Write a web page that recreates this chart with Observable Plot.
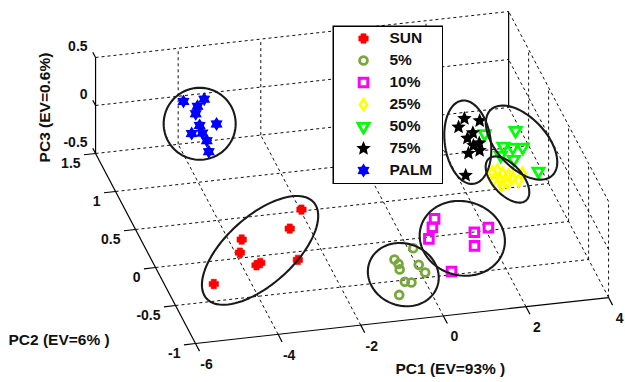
<!DOCTYPE html>
<html>
<head>
<meta charset="utf-8">
<script src="https://cdn.jsdelivr.net/npm/d3@7"></script>
<script src="https://cdn.jsdelivr.net/npm/@observablehq/plot@0.6"></script>
<style>
html,body{margin:0;padding:0;background:#fff;}
#wrap{position:relative;width:625px;height:382px;overflow:hidden;}
#legend{position:absolute;left:332px;top:25px;width:111px;height:159px;}
</style>
</head>
<body>
<div id="wrap"><div id="chart"></div><div id="legend"></div></div>
<script>
// ---------------- data (PC scores) ----------------
const groups = ["SUN", "5%", "10%", "25%", "50%", "75%", "PALM"];

const sunPC1 = [-2.37, -2.81, -4.04, -4.18, -4.01, -3.92, -3.00, -5.19];
const sunPC2 = [0.10, -0.06, -0.13, -0.23, -0.47, -0.47, -0.46, -0.62];
const sunPC3 = [-0.15, -0.20, -0.20, -0.25, -0.20, -0.18, -0.20, -0.22];

const b5PC1 = [-0.07, -0.67, -0.63, -0.67, -0.18, -0.16, -0.70, -0.56, -1.01];
const b5PC2 = [-0.32, -0.47, -0.53, -0.60, -0.57, -0.71, -0.76, -0.78, -0.94];
const b5PC3 = [-0.33, -0.30, -0.30, -0.30, -0.30, -0.27, -0.30, -0.30, -0.28];

const b10PC1 = [0.62, 0.47, 0.25, 1.37, 1.21, 1.70, 0.42];
const b10PC2 = [-0.14, -0.24, -0.38, -0.36, -0.53, -0.37, -0.77];
const b10PC3 = [-0.20, -0.20, -0.20, -0.20, -0.20, -0.16, -0.24];

const b25PC1 = [2.27, 2.41, 2.49, 2.20, 2.36, 2.60, 2.67, 2.77, 2.50, 2.36, 2.91];
const b25PC2 = [0.12, 0.14, 0.09, 0.02, 0.01, 0.06, 0.03, -0.02, -0.03, -0.02, 0.03];
const b25PC3 = [0.00, 0.00, 0.00, 0.00, 0.00, 0.00, 0.00, 0.00, 0.00, -0.03, 0.03];

const b50PC1 = [3.14, 2.72, 2.92, 3.15, 2.55, 2.80, 3.28, 2.44];
const b50PC2 = [0.44, 0.31, 0.28, 0.27, 0.20, 0.13, 0.01, 0.49];
const b50PC3 = [0.14, 0.10, 0.10, 0.10, 0.10, 0.10, 0.05, 0.10];

const b75PC1 = [2.00, 2.37, 1.81, 2.07, 1.88, 2.07, 1.93, 2.01, 1.72, 1.45];
const b75PC2 = [0.54, 0.54, 0.49, 0.40, 0.34, 0.24, 0.24, 0.17, 0.15, -0.06];
const b75PC3 = [0.24, 0.20, 0.20, 0.20, 0.20, 0.22, 0.20, 0.20, 0.20, 0.15];

const palmPC1 = [-4.23, -3.67, -3.91, -4.04, -3.71, -4.09, -4.37, -4.12, -4.11, -4.14];
const palmPC2 = [1.13, 1.19, 1.11, 1.02, 0.84, 0.87, 0.78, 0.77, 0.67, 0.59];
const palmPC3 = [0.25, 0.20, 0.20, 0.20, 0.22, 0.20, 0.20, 0.20, 0.20, 0.15];

// cluster ellipse centres (PC space)
const ellipseGroup = ["SUN", "5%", "10%", "25%", "50%", "75%", "PALM"];
const ellipsePC1 = [-3.75, -0.65, 1.02, 2.53, 3.18, 1.84, -4.07];
const ellipsePC2 = [-0.29, -0.67, -0.42, 0.01, 0.33, 0.29, 0.89];
const ellipsePC3 = [-0.20, -0.30, -0.20, 0.00, 0.10, 0.20, 0.20];

// axes
const pc1Ticks = [-6, -4, -2, 0, 2, 4];
const pc2Ticks = [-1, -0.5, 0, 0.5, 1, 1.5];
const pc3Ticks = [-0.5, 0, 0.5];
const pc1Label = "PC1 (EV=93% )";
const pc2Label = "PC2 (EV=6% )";
const pc3Label = "PC3 (EV=0.6%)";

// ---------------- build table ----------------
const series = [
  {group: "SUN", pc1: sunPC1, pc2: sunPC2, pc3: sunPC3},
  {group: "5%", pc1: b5PC1, pc2: b5PC2, pc3: b5PC3},
  {group: "10%", pc1: b10PC1, pc2: b10PC2, pc3: b10PC3},
  {group: "25%", pc1: b25PC1, pc2: b25PC2, pc3: b25PC3},
  {group: "50%", pc1: b50PC1, pc2: b50PC2, pc3: b50PC3},
  {group: "75%", pc1: b75PC1, pc2: b75PC2, pc3: b75PC3},
  {group: "PALM", pc1: palmPC1, pc2: palmPC2, pc3: palmPC3}
];

// ---------------- 3-D view (orthographic, MATLAB-like) ----------------
const box = {x: [pc1Ticks[0], pc1Ticks[pc1Ticks.length - 1]],
             y: [pc2Ticks[0], pc2Ticks[pc2Ticks.length - 1]],
             z: [pc3Ticks[0], pc3Ticks[pc3Ticks.length - 1]]};
const AZ = 13.6 * Math.PI / 180, SIN_EL = 0.46, L = 425, H = 96;
function proj(X, Y, Z) {
  const xn = (X - box.x[0]) / (box.x[1] - box.x[0]);
  const yn = (Y - box.y[0]) / (box.y[1] - box.y[0]);
  const zn = (Z - box.z[0]) / (box.z[1] - box.z[0]);
  return {
    u: L * (Math.cos(AZ) * xn - Math.sin(AZ) * yn),
    v: L * SIN_EL * (Math.sin(AZ) * xn + Math.cos(AZ) * yn) + H * zn
  };
}

const points = series.flatMap(s => s.pc1.map((v, i) => {
  const p = proj(v, s.pc2[i], s.pc3[i]);
  return {group: s.group, pc1: v, pc2: s.pc2[i], pc3: s.pc3[i], u: p.u, v: p.v};
}));

// ---------------- box, grid, ticks ----------------
const [x0, x1] = box.x, [y0, y1] = box.y, [z0, z1] = box.z;
const segs = [];
const seg = (a, b, kind) => {
  const p = proj(...a), q = proj(...b);
  segs.push({x1: p.u, y1: p.v, x2: q.u, y2: q.v, kind});
};
for (const t of pc1Ticks) if (t > x0 && t < x1) { seg([t, y0, z0], [t, y1, z0], "grid"); seg([t, y1, z0], [t, y1, z1], "grid"); }
for (const t of pc2Ticks) if (t > y0 && t < y1) { seg([x0, t, z0], [x1, t, z0], "grid"); seg([x1, t, z0], [x1, t, z1], "grid"); }
for (const t of pc3Ticks) if (t > z0 && t < z1) { seg([x0, y1, t], [x1, y1, t], "grid"); seg([x1, y0, t], [x1, y1, t], "grid"); }
seg([x0, y1, z0], [x1, y1, z0], "grid");
seg([x1, y0, z0], [x1, y1, z0], "grid");
seg([x0, y1, z1], [x1, y1, z1], "grid");
seg([x1, y0, z1], [x1, y1, z1], "grid");
seg([x1, y0, z0], [x1, y0, z1], "grid");
seg([x0, y0, z0], [x1, y0, z0], "axis");
seg([x0, y0, z0], [x0, y1, z0], "axis");
seg([x0, y1, z0], [x0, y1, z1], "axis");
seg([x1, y1, z0], [x1, y1, z1], "axis");
for (const t of pc1Ticks) seg([t, y0, z0], [t, y0 - 0.1, z0], "axis");
for (const t of pc2Ticks) seg([x0, t, z0], [x0 - 0.28, t, z0], "axis");
for (const t of pc3Ticks) seg([x0, y1, t], [x0, y1 + 0.07, t], "axis");

const fmt = t => String(t);
const pc1Lab = pc1Ticks.map(t => ({t, ...proj(t, y0, z0)}));
const pc2Lab = pc2Ticks.map(t => ({t, ...proj(x0, t, z0)}));
const pc3Lab = pc3Ticks.map(t => ({t, ...proj(x0, y1, t)}));

// ---------------- marker symbols ----------------
const rad = size => Math.sqrt(size / Math.PI);
const plusSym = {draw(c, s) { const R = rad(s), w = R * 0.55;
  c.moveTo(-w, -R); c.lineTo(w, -R); c.lineTo(w, -w); c.lineTo(R, -w); c.lineTo(R, w); c.lineTo(w, w);
  c.lineTo(w, R); c.lineTo(-w, R); c.lineTo(-w, w); c.lineTo(-R, w); c.lineTo(-R, -w); c.lineTo(-w, -w); c.closePath(); }};
const squareSym = {draw(c, s) { const R = rad(s); c.rect(-R, -R, 2 * R, 2 * R); }};
const diamondSym = {draw(c, s) { const R = rad(s), w = R * 0.62;
  c.moveTo(0, -R); c.lineTo(w, 0); c.lineTo(0, R); c.lineTo(-w, 0); c.closePath(); }};
const triDownSym = {draw(c, s) { const R = rad(s);
  c.moveTo(-0.866 * R, -0.5 * R); c.lineTo(0.866 * R, -0.5 * R); c.lineTo(0, R); c.closePath(); }};
const starSym = (n, k) => ({draw(c, s) { const R = rad(s), r = R * k;
  for (let i = 0; i < 2 * n; i++) { const a = -Math.PI / 2 + i * Math.PI / n, rr = i % 2 ? r : R;
    const x = rr * Math.cos(a), y = rr * Math.sin(a); i ? c.lineTo(x, y) : c.moveTo(x, y); }
  c.closePath(); }});

const markStyle = {
  "SUN":  {symbol: plusSym, r: 4.7, fill: "#ff0000", stroke: "#ff0000", strokeWidth: 0.6},
  "5%":   {symbol: "circle", r: 3.9, fill: "none", stroke: "#78a83c", strokeWidth: 2.8},
  "10%":  {symbol: squareSym, r: 4.3, fill: "none", stroke: "#ff00ff", strokeWidth: 3},
  "25%":  {symbol: diamondSym, r: 5.6, fill: "none", stroke: "#ffff00", strokeWidth: 2.6},
  "50%":  {symbol: triDownSym, r: 6.4, fill: "none", stroke: "#00ff00", strokeWidth: 2.8},
  "75%":  {symbol: starSym(5, 0.45), r: 7.6, fill: "#000000", stroke: "none"},
  "PALM": {symbol: starSym(6, 0.6), r: 7, fill: "#0000ff", stroke: "none"}
};
const drawOrder = ["SUN", "5%", "10%", "50%", "25%", "75%", "PALM"];

// ---------------- ellipses (shape in screen px) ----------------
const ellipseShape = {
  "SUN": {a: 72, b: 34, angle: -42}, "5%": {a: 36, b: 31, angle: 20}, "10%": {a: 43, b: 37, angle: 15},
  "25%": {a: 28, b: 15, angle: 48}, "50%": {a: 45, b: 25, angle: 47}, "75%": {a: 42, b: 23, angle: 82},
  "PALM": {a: 36, b: 36, angle: 0}
};
const ellipsePts = ellipseGroup.flatMap((g, i) => {
  const c = proj(ellipsePC1[i], ellipsePC2[i], ellipsePC3[i]);
  const {a, b, angle} = ellipseShape[g], th = angle * Math.PI / 180;
  return d3.range(0, 96).map(k => {
    const t = 2 * Math.PI * k / 96;
    const dx = a * Math.cos(t) * Math.cos(th) - b * Math.sin(t) * Math.sin(th);
    const dy = a * Math.cos(t) * Math.sin(th) + b * Math.sin(t) * Math.cos(th);
    return {g, u: c.u + dx, v: c.v - dy};
  });
});

// ---------------- plot ----------------
const FONT = '"Liberation Sans", Arial, Helvetica, sans-serif';
const mid1 = proj((x0 + x1) / 2 + 1, y0, z0);
const mid3 = proj(x0, y1, (z0 + z1) / 2);

const chart = Plot.plot({
  width: 625, height: 382, margin: 0,
  x: {domain: [-195, 430], range: [0, 625], axis: null},
  y: {domain: [-39, 343], range: [382, 0], axis: null},
  style: {fontFamily: FONT, background: "#fff", color: "#000"},
  marks: [
    Plot.link(segs.filter(d => d.kind === "grid"), {x1: "x1", y1: "y1", x2: "x2", y2: "y2", stroke: "#111", strokeWidth: 1, strokeDasharray: "3,3"}),
    Plot.link(segs.filter(d => d.kind === "axis"), {x1: "x1", y1: "y1", x2: "x2", y2: "y2", stroke: "#000", strokeWidth: 1.2}),
    Plot.text(pc1Lab, {x: "u", y: "v", text: d => fmt(d.t), dx: 11, dy: 21, textAnchor: "middle", fontSize: 14, fontWeight: "bold", fill: "#111"}),
    Plot.text(pc2Lab, {x: "u", y: "v", text: d => fmt(d.t), dx: -15, dy: 10, textAnchor: "end", fontSize: 14, fontWeight: "bold", fill: "#111"}),
    Plot.text(pc3Lab, {x: "u", y: "v", text: d => fmt(d.t), dx: -8, dy: -11, textAnchor: "end", fontSize: 14, fontWeight: "bold", fill: "#111"}),
    Plot.text([pc1Label], {x: () => mid1.u, y: () => mid1.v, text: d => d, dx: 7, dy: 53, textAnchor: "middle", fontSize: 15.5, fontWeight: "bold", fill: "#111"}),
    Plot.text([pc2Label], {frameAnchor: "left", text: d => d, dx: 8, dy: 149, textAnchor: "start", fontSize: 15.5, fontWeight: "bold", fill: "#111"}),
    Plot.text([pc3Label], {x: () => mid3.u - 51, y: () => mid3.v - 2, text: d => d, rotate: -90, textAnchor: "middle", fontSize: 15.5, fontWeight: "bold", fill: "#111"}),
    ...drawOrder.map(g => Plot.dot(points.filter(d => d.group === g), {x: "u", y: "v", ...markStyle[g]})),
    Plot.line(ellipsePts, {x: "u", y: "v", z: "g", curve: "linear-closed", stroke: "#1a1a1a", strokeWidth: 2.1})
  ]
});
document.getElementById("chart").appendChild(chart);

const legend = Plot.plot({
  width: 111, height: 159, margin: 0,
  x: {domain: [0, 111], range: [0, 111], axis: null},
  y: {type: "point", domain: groups, range: [12, 145], padding: 0, axis: null},
  style: {fontFamily: FONT, background: "transparent"},
  marks: [
    Plot.frame({fill: "#fff", stroke: "#000", strokeWidth: 1.5, inset: 0.75}),
    ...groups.map(g => Plot.dot([g], {x: () => 31, y: d => d, ...markStyle[g]})),
    Plot.text(groups, {x: () => 57, y: d => d, text: d => d, textAnchor: "start", fontSize: 15.5, fontWeight: "bold", fill: "#111"})
  ]
});
document.getElementById("legend").appendChild(legend);
</script>
</body>
</html>
